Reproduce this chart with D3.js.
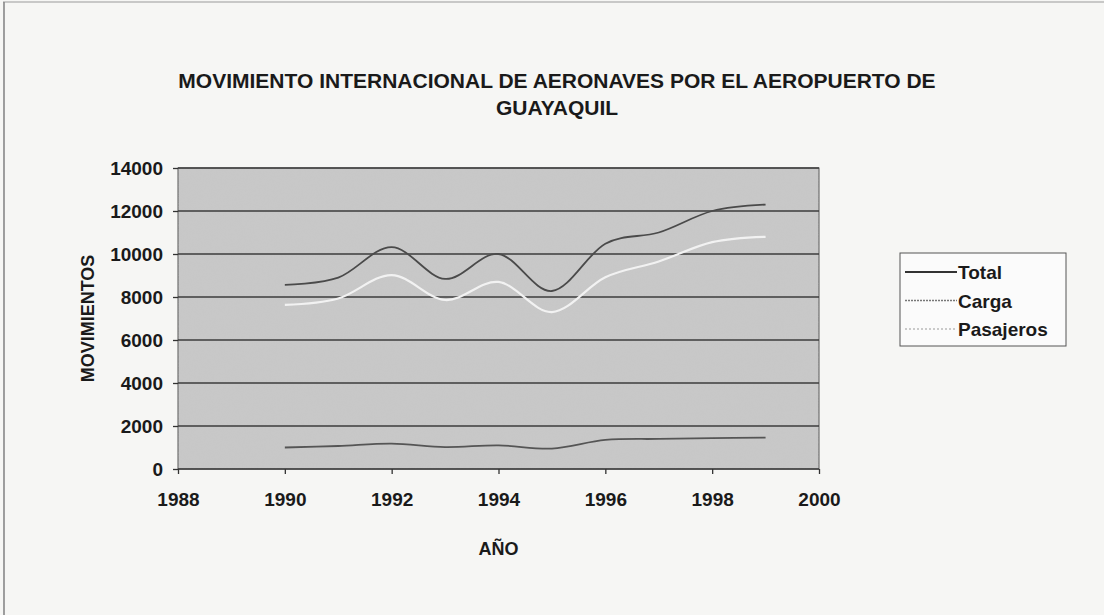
<!DOCTYPE html>
<html><head><meta charset="utf-8">
<script src="https://cdn.jsdelivr.net/npm/d3@7"></script>
<style>
html,body{margin:0;padding:0;background:#f6f6f4;}
svg{display:block;}
text{font-family:"Liberation Sans",Arial,sans-serif;font-weight:bold;fill:#1a1a1a;}
</style></head>
<body>
<svg id="chart" width="1104" height="615"></svg>
<script>
const years = [1990, 1991, 1992, 1993, 1994, 1995, 1996, 1997, 1998, 1999];
const total = [8560, 8900, 10320, 8840, 10000, 8280, 10480, 11000, 12000, 12300];
const carga = [1000, 1070, 1180, 1020, 1100, 950, 1350, 1400, 1440, 1460];
const pasajeros = [7630, 7930, 9020, 7860, 8700, 7300, 8920, 9650, 10550, 10800];
const xTicks = [1988, 1990, 1992, 1994, 1996, 1998, 2000];
const yTicks = [0, 2000, 4000, 6000, 8000, 10000, 12000, 14000];
const seriesNames = ["Total", "Carga", "Pasajeros"];
const titleLines = ["MOVIMIENTO INTERNACIONAL DE AERONAVES POR EL AEROPUERTO DE", "GUAYAQUIL"];

const svg = d3.select("#chart");
const L = 178, R = 819, T = 168, B = 469;
const x = d3.scaleLinear().domain([1988, 2000]).range([L, R]);
const y = d3.scaleLinear().domain([0, 14000]).range([B, T]);

// grain filter
const defs = svg.append("defs");
const f = defs.append("filter").attr("id", "grain").attr("x", 0).attr("y", 0).attr("width", 1).attr("height", 1);
f.append("feTurbulence").attr("type", "fractalNoise").attr("baseFrequency", "0.9").attr("numOctaves", 2).attr("seed", 3).attr("result", "n");
f.append("feColorMatrix").attr("in", "n").attr("type", "matrix")
  .attr("values", "0 0 0 0 0.55  0 0 0 0 0.55  0 0 0 0 0.55  0.5 0.5 0 0 -0.38");

// scan border
svg.append("line").attr("x1", 3).attr("x2", 1104).attr("y1", 2).attr("y2", 2).attr("stroke", "#999").attr("stroke-width", 1.2);
svg.append("line").attr("x1", 4).attr("x2", 4).attr("y1", 2).attr("y2", 615).attr("stroke", "#888").attr("stroke-width", 1.6);

// title
svg.append("g").selectAll("text").data(titleLines).join("text")
  .attr("x", 557).attr("y", (d, i) => 88 + i * 27)
  .attr("text-anchor", "middle").attr("font-size", 21)
  .text(d => d);

// plot area
svg.append("rect").attr("x", L).attr("y", T).attr("width", R - L).attr("height", B - T)
  .attr("fill", "#c8c8c8").attr("stroke", "#555").attr("stroke-width", 1);
svg.append("rect").attr("x", L).attr("y", T).attr("width", R - L).attr("height", B - T)
  .attr("filter", "url(#grain)").attr("opacity", 0.55);

// gridlines
svg.append("g").selectAll("line").data(yTicks).join("line")
  .attr("x1", L).attr("x2", R).attr("y1", d => y(d)).attr("y2", d => y(d))
  .attr("stroke", "#3c3c3c").attr("stroke-width", 1.4);

// axes
const yAxis = d3.axisLeft(y).tickValues(yTicks).tickSize(5).tickPadding(10).tickFormat(d3.format("d"));
const gy = svg.append("g").attr("transform", `translate(${L},0)`).call(yAxis);
gy.selectAll("text").attr("font-size", 19).attr("fill", "#1a1a1a");
gy.selectAll("line,path").attr("stroke", "#333").attr("stroke-width", 1.3);

const xAxis = d3.axisBottom(x).tickValues(xTicks).tickSize(5).tickPadding(19).tickFormat(d3.format("d"));
const gx = svg.append("g").attr("transform", `translate(0,${B})`).call(xAxis);
gx.selectAll("text").attr("font-size", 19).attr("fill", "#1a1a1a");
gx.selectAll("line,path").attr("stroke", "#333").attr("stroke-width", 1.3);
gx.select(".domain").remove(); gy.select(".domain").remove();
svg.selectAll(".tick text").style("font-family", "'Liberation Sans',Arial,sans-serif").style("font-weight", "bold");

// axis titles
svg.append("text").attr("transform", `translate(94,${(T + B) / 2}) rotate(-90)`)
  .attr("text-anchor", "middle").attr("font-size", 18).text("MOVIMIENTOS");
svg.append("text").attr("x", (L + R) / 2).attr("y", 555)
  .attr("text-anchor", "middle").attr("font-size", 18).text("AÑO");

// lines
const styles = {
  Total: {color: "#4a4a4a", w: 1.8},
  Carga: {color: "#555555", w: 1.8},
  Pasajeros: {color: "#f2f2f2", w: 2.2}
};
const dataMap = {Total: total, Carga: carga, Pasajeros: pasajeros};
const line = d3.line().x(d => x(d[0])).y(d => y(d[1])).curve(d3.curveCardinal.tension(0));
["Pasajeros", "Carga", "Total"].forEach(name => {
  svg.append("path").datum(years.map((yr, i) => [yr, dataMap[name][i]]))
    .attr("d", line).attr("fill", "none")
    .attr("stroke", styles[name].color).attr("stroke-width", styles[name].w);
});

// legend
const lg = svg.append("g");
lg.append("rect").attr("x", 900).attr("y", 253).attr("width", 166).attr("height", 93)
  .attr("fill", "#fbfbfb").attr("stroke", "#555").attr("stroke-width", 1);
const legendColors = {Total: "#333", Carga: "#777", Pasajeros: "#bbb"};
const legendDash = {Total: null, Carga: "2,1", Pasajeros: "2,2"};
seriesNames.forEach((name, i) => {
  const yy = 272 + i * 28.5;
  lg.append("line").attr("x1", 905).attr("x2", 957).attr("y1", yy).attr("y2", yy)
    .attr("stroke", legendColors[name]).attr("stroke-width", name === "Total" ? 2 : 1.5)
    .attr("stroke-dasharray", legendDash[name]);
  lg.append("text").attr("x", 958).attr("y", yy + 7).attr("font-size", 19).text(name);
});
</script>
</body></html>
